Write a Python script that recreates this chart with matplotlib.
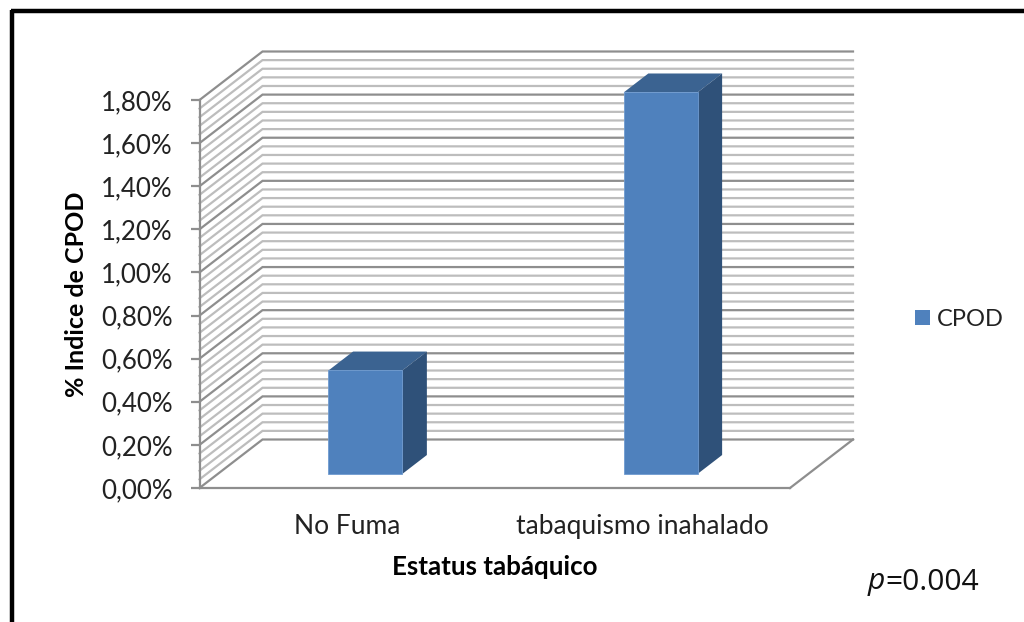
import numpy as np
import matplotlib
matplotlib.use("Agg")
import matplotlib.pyplot as plt
from matplotlib.lines import Line2D
from matplotlib.patches import Patch

categories = ["No Fuma", "tabaquismo inahalado"]
values = [0.48, 1.77]
series_name = "CPOD"
y_ticks = [0.0, 0.2, 0.4, 0.6, 0.8, 1.0, 1.2, 1.4, 1.6, 1.8]
y_tick_labels = ["0,00%", "0,20%", "0,40%", "0,60%", "0,80%", "1,00%", "1,20%", "1,40%", "1,60%", "1,80%"]

W, H = 1024, 622
FONT = "Lato"
fig = plt.figure(figsize=(W / 100, H / 100), dpi=100, facecolor="white")
ax = fig.add_axes([199.5 / W, 1 - 488 / H, 590.5 / W, 388 / H])
ax.set_xlim(0, 2)
ax.set_ylim(0, 1.8)
ax.patch.set_visible(False)

# oblique depth projection
DX = 63 / 295.25      # category units for full depth
DY = 48.5 / (388 / 1.8)  # percent units for full depth


def proj(x, y, z):
    return x + DX * z, y + DY * z


MAJOR = "#8e8e8e"
MINOR = "#bdbdbd"
levels = np.round(np.arange(0, 1.8001, 0.04), 2)
for v in levels:
    is_major = abs(v / 0.2 - round(v / 0.2)) < 1e-6
    p0, p1 = proj(0, v, 0), proj(0, v, 1)
    p2 = proj(2, v, 1)
    ax.plot([p0[0], p1[0], p2[0]], [p0[1], p1[1], p2[1]],
            color=MAJOR if is_major else MINOR,
            lw=1.6, clip_on=False,
            zorder=2 if is_major else 1, solid_joinstyle="miter")

# floor right edge and front edge
p_a, p_b = proj(2, 0, 0), proj(2, 0, 1)
ax.plot([p_a[0], p_b[0]], [p_a[1], p_b[1]], color=MAJOR, lw=1.6, clip_on=False, zorder=2)

# 3D bars
FRONT = "#4F81BD"
TOP = "#3B6391"
SIDE = "#2F5179"
width = 0.25
z0, z1 = 0.29, 0.68
for i, v in enumerate(values):
    xc = i + 0.5
    l, r = xc - width / 2, xc + width / 2
    corners_top = [proj(l, v, z0), proj(r, v, z0), proj(r, v, z1), proj(l, v, z1)]
    corners_side = [proj(r, 0, z0), proj(r, v, z0), proj(r, v, z1), proj(r, 0, z1)]
    ax.fill(*zip(*corners_top), color=TOP, lw=0, zorder=5, clip_on=False)
    ax.fill(*zip(*corners_side), color=SIDE, lw=0, zorder=5, clip_on=False)
    b0 = proj(l, 0, z0)
    ax.bar(b0[0], v, width=width, bottom=b0[1], align="edge", color=FRONT,
           edgecolor="#6f9bd0", linewidth=0.6, zorder=6, clip_on=False)

# axes
for s in ("top", "right"):
    ax.spines[s].set_visible(False)
for s in ("left", "bottom"):
    ax.spines[s].set_color(MAJOR)
    ax.spines[s].set_linewidth(1.6)
    ax.spines[s].set_zorder(3)
ax.set_yticks(y_ticks)
ax.set_yticklabels(y_tick_labels, fontfamily=FONT, fontsize=18.6, color="#222222")
ax.tick_params(axis="y", length=6.5, width=1.6, color=MAJOR, pad=13)
ax.set_xticks([0.5, 1.5])
ax.set_xticklabels(categories, fontfamily=FONT, fontsize=19, color="#222222")
ax.tick_params(axis="x", length=0, pad=19)

fig.text(77 / W, 1 - 294 / H, "% Indice de CPOD", rotation=90, ha="center", va="center",
         fontfamily=FONT, fontweight="bold", fontsize=18, color="black")
fig.text(494.5 / W, 1 - 567 / H, "Estatus tabáquico", ha="center", va="center",
         fontfamily=FONT, fontweight="bold", fontsize=18.6, color="black")

# legend
fig.legend(handles=[Patch(facecolor=FRONT, edgecolor="none", label=series_name)],
           loc="center left", bbox_to_anchor=(908 / W, 1 - 319 / H), frameon=False,
           prop={"family": FONT, "size": 17}, labelcolor="#222222",
           handlelength=0.62, handleheight=0.62, handletextpad=0.3,
           borderpad=0, borderaxespad=0.3)

# annotation
fig.text(885 / W, 1 - 582 / H, "p", ha="right", va="center", style="italic",
         fontfamily="Open Sans", fontsize=21.6, color="#111111")
fig.text(885 / W, 1 - 582 / H, "=0.004", ha="left", va="center",
         fontfamily="Open Sans", fontsize=21.6, color="#111111")

# picture frame
fig.add_artist(Line2D([12 / W, 12 / W], [0, 1 - 10 / H], color="black", lw=3.2,
                      transform=fig.transFigure, solid_capstyle="butt"))
fig.add_artist(Line2D([10.5 / W, 1], [1 - 11 / H, 1 - 11 / H], color="black", lw=3.2,
                      transform=fig.transFigure, solid_capstyle="butt"))

fig.savefig("out.png", dpi=100)
